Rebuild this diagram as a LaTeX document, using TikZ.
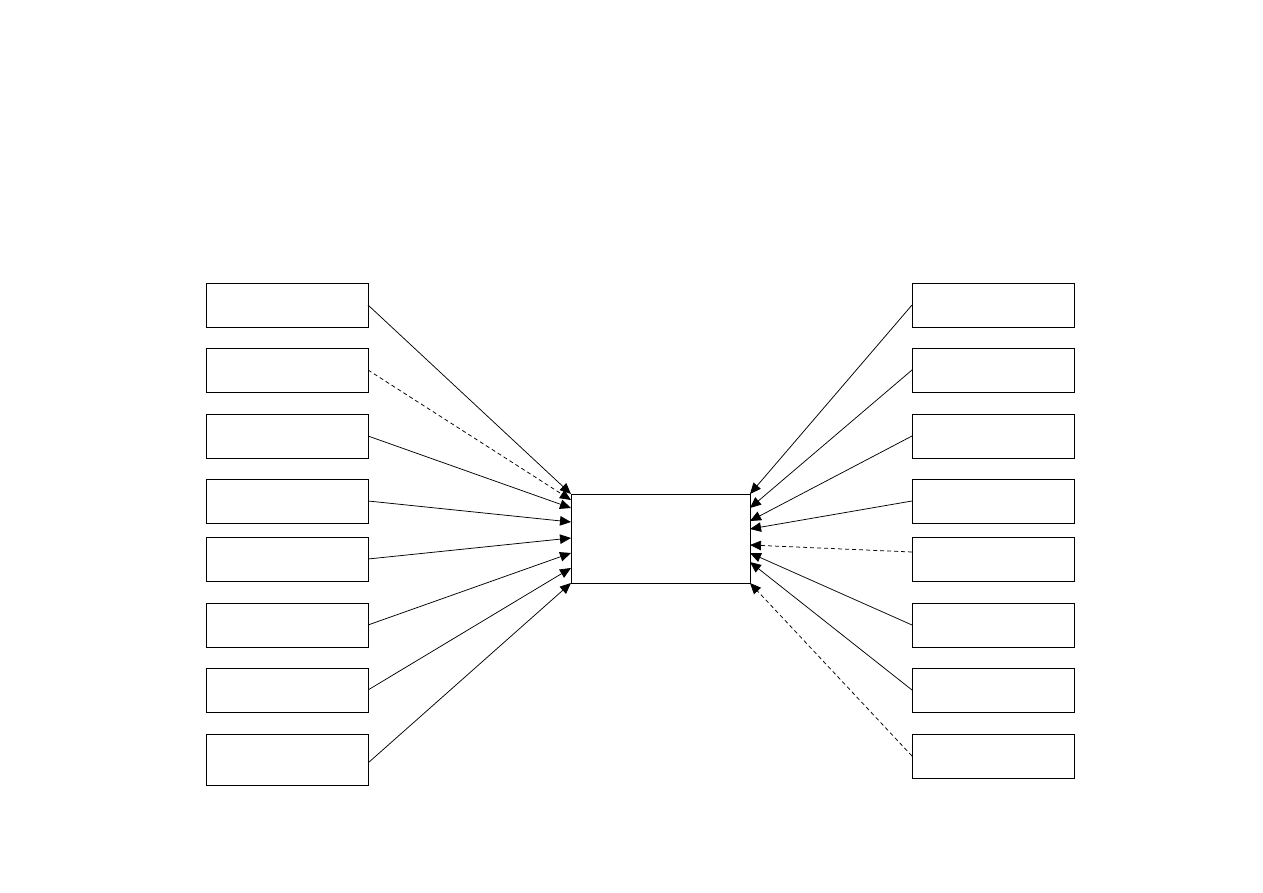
\documentclass[tikz,border=0pt]{standalone}
\usepackage{tikz}
\usetikzlibrary{arrows.meta,positioning}

\begin{document}
\begin{tikzpicture}[x=1pt,y=-1pt,
  box/.style={draw=black,fill=white,line width=0.8pt,minimum width=162pt,minimum height=44pt,inner sep=0pt,outer sep=0pt},
  hub/.style={draw=black,fill=white,line width=0.8pt,minimum width=179pt,minimum height=89pt,inner sep=0pt,outer sep=0pt},
  fl/.style={-{Triangle[length=11pt,width=9.5pt]},line width=0.75pt},
  dfl/.style={fl,dash pattern=on 4pt off 3pt}]
\useasboundingbox (0,0) rectangle (1263,893);
% ---- central box
\node[hub] (ctr) at (660.5,538.5) {};
% ---- left column
\node[box] (l1) at (287,305) {};
\node[box] (l2) at (287,370) {};
\node[box] (l3) at (287,436) {};
\node[box] (l4) at (287,501) {};
\node[box] (l5) at (287,559) {};
\node[box] (l6) at (287,625) {};
\node[box] (l7) at (287,690) {};
\node[box,minimum height=51pt] (l8) at (287,759.5) {};
% ---- right column
\node[box] (r1) at (993,305) {};
\node[box] (r2) at (993,370) {};
\node[box] (r3) at (993,436) {};
\node[box] (r4) at (993,501) {};
\node[box] (r5) at (993,559) {};
\node[box] (r6) at (993,625) {};
\node[box] (r7) at (993,690) {};
\node[box] (r8) at (993,756) {};
% ---- flows from the left
\draw[fl]  (l1.east) -- (ctr.north west);
\draw[dfl] (l2.east) -- ([yshift=-6pt]ctr.north west);
\draw[fl]  (l3.east) -- ([yshift=-14pt]ctr.north west);
\draw[fl]  (l4.east) -- ([yshift=-28pt]ctr.north west);
\draw[fl]  (l5.east) -- ([yshift=-44pt]ctr.north west);
\draw[fl]  (l6.east) -- ([yshift=-59pt]ctr.north west);
\draw[fl]  (l7.east) -- ([yshift=-74pt]ctr.north west);
\draw[fl]  ([yshift=-3.5pt]l8.east) -- (ctr.south west);
% ---- flows from the right
\draw[fl]  (r1.west) -- (ctr.north east);
\draw[fl]  (r2.west) -- ([yshift=-14pt]ctr.north east);
\draw[fl]  (r3.west) -- ([yshift=-27pt]ctr.north east);
\draw[fl]  (r4.west) -- ([yshift=-35pt]ctr.north east);
\draw[dfl] ([yshift=7pt]r5.west) -- ([yshift=-51pt]ctr.north east);
\draw[fl]  (r6.west) -- ([yshift=-59pt]ctr.north east);
\draw[fl]  (r7.west) -- ([yshift=-68pt]ctr.north east);
\draw[dfl] (r8.west) -- (ctr.south east);
\end{tikzpicture}
\end{document}
